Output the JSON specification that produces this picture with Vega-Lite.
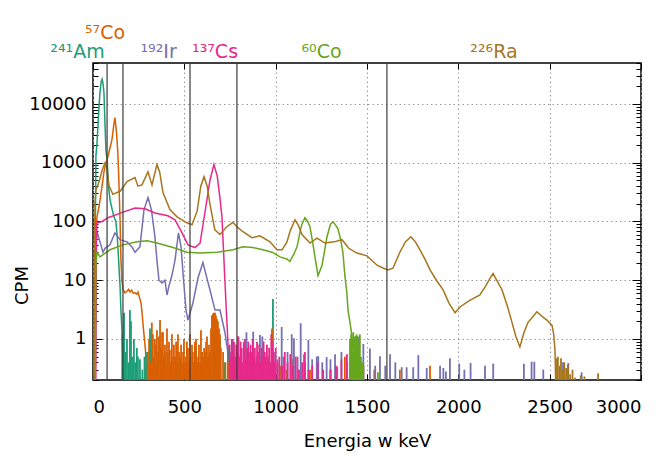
{
"$schema":"https://vega.github.io/schema/vega-lite/v6.json",
"autosize":{"type":"none"},
"width":548,"height":317,
"padding":{"left":93,"top":63,"right":27,"bottom":76},
"background":"white",
"config":{"view":{"stroke":"black","strokeWidth":1.5},"font":"DejaVu Sans"},
"datasets":{
"curve":[
{"s":"Am","e":8,"c":0.1},{"s":"Am","e":12,"c":40},{"s":"Am","e":16,"c":1300},{"s":"Am","e":22,"c":2200},{"s":"Am","e":27,"c":4200},{"s":"Am","e":33,"c":9000},{"s":"Am","e":38,"c":15700},{"s":"Am","e":45,"c":24000},{"s":"Am","e":50,"c":26400},{"s":"Am","e":55,"c":22000},{"s":"Am","e":60,"c":15700},{"s":"Am","e":66,"c":4200},{"s":"Am","e":71,"c":1600},{"s":"Am","e":77,"c":1130},{"s":"Am","e":85,"c":400},{"s":"Am","e":93,"c":235},{"s":"Am","e":105,"c":160},{"s":"Am","e":115,"c":120},{"s":"Am","e":125,"c":100},{"s":"Am","e":132,"c":60},{"s":"Am","e":138,"c":30},{"s":"Am","e":143,"c":15},{"s":"Am","e":148,"c":8},{"s":"Am","e":153,"c":3},{"s":"Am","e":158,"c":1.5},{"s":"Am","e":163,"c":0.6},{"s":"Am","e":166,"c":0.1},
{"s":"Co57","e":10,"c":0.1},{"s":"Co57","e":14,"c":20},{"s":"Co57","e":18,"c":80},{"s":"Co57","e":22,"c":120},{"s":"Co57","e":33,"c":180},{"s":"Co57","e":49,"c":390},{"s":"Co57","e":60,"c":700},{"s":"Co57","e":66,"c":860},{"s":"Co57","e":75,"c":1100},{"s":"Co57","e":82,"c":1280},{"s":"Co57","e":93,"c":1800},{"s":"Co57","e":104,"c":2500},{"s":"Co57","e":112,"c":4000},{"s":"Co57","e":120,"c":5900},{"s":"Co57","e":128,"c":3500},{"s":"Co57","e":136,"c":1500},{"s":"Co57","e":142,"c":460},{"s":"Co57","e":148,"c":107},{"s":"Co57","e":153,"c":22},{"s":"Co57","e":158,"c":10},{"s":"Co57","e":164,"c":7},{"s":"Co57","e":175,"c":6.1},{"s":"Co57","e":186,"c":6.5},{"s":"Co57","e":195,"c":7.0},{"s":"Co57","e":203,"c":6.3},{"s":"Co57","e":212,"c":6.8},{"s":"Co57","e":220,"c":6.0},{"s":"Co57","e":230,"c":6.1},{"s":"Co57","e":240,"c":5.8},{"s":"Co57","e":246,"c":6.3},{"s":"Co57","e":255,"c":5.0},{"s":"Co57","e":263,"c":4.1},{"s":"Co57","e":270,"c":2.5},{"s":"Co57","e":276,"c":1.5},{"s":"Co57","e":283,"c":0.9},{"s":"Co57","e":290,"c":0.5},{"s":"Co57","e":295,"c":0.1},
{"s":"Ir","e":12,"c":0.1},{"s":"Ir","e":16,"c":40},{"s":"Ir","e":22,"c":67},{"s":"Ir","e":38,"c":45},{"s":"Ir","e":55,"c":30},{"s":"Ir","e":66,"c":35},{"s":"Ir","e":93,"c":40},{"s":"Ir","e":120,"c":64},{"s":"Ir","e":148,"c":49},{"s":"Ir","e":186,"c":45},{"s":"Ir","e":213,"c":37},{"s":"Ir","e":230,"c":30},{"s":"Ir","e":257,"c":37},{"s":"Ir","e":279,"c":158},{"s":"Ir","e":301,"c":255},{"s":"Ir","e":320,"c":158},{"s":"Ir","e":339,"c":55},{"s":"Ir","e":350,"c":22},{"s":"Ir","e":361,"c":10},{"s":"Ir","e":378,"c":9},{"s":"Ir","e":394,"c":10},{"s":"Ir","e":405,"c":5.6},{"s":"Ir","e":416,"c":8},{"s":"Ir","e":432,"c":12},{"s":"Ir","e":449,"c":22},{"s":"Ir","e":468,"c":64},{"s":"Ir","e":482,"c":37},{"s":"Ir","e":493,"c":13},{"s":"Ir","e":509,"c":3.1},{"s":"Ir","e":520,"c":2.1},{"s":"Ir","e":547,"c":4.1},{"s":"Ir","e":575,"c":11},{"s":"Ir","e":602,"c":20},{"s":"Ir","e":620,"c":12},{"s":"Ir","e":640,"c":6.9},{"s":"Ir","e":668,"c":3.1},{"s":"Ir","e":695,"c":3.1},{"s":"Ir","e":722,"c":1.3},{"s":"Ir","e":739,"c":0.58},{"s":"Ir","e":745,"c":0.1},
{"s":"Cs","e":15,"c":0.1},{"s":"Cs","e":19,"c":50},{"s":"Cs","e":22,"c":95},{"s":"Cs","e":50,"c":100},{"s":"Cs","e":82,"c":116},{"s":"Cs","e":153,"c":140},{"s":"Cs","e":230,"c":170},{"s":"Cs","e":285,"c":165},{"s":"Cs","e":339,"c":140},{"s":"Cs","e":410,"c":125},{"s":"Cs","e":449,"c":107},{"s":"Cs","e":481,"c":70},{"s":"Cs","e":520,"c":40},{"s":"Cs","e":558,"c":36},{"s":"Cs","e":586,"c":43},{"s":"Cs","e":605,"c":100},{"s":"Cs","e":624,"c":235},{"s":"Cs","e":640,"c":500},{"s":"Cs","e":662,"c":930},{"s":"Cs","e":680,"c":600},{"s":"Cs","e":695,"c":250},{"s":"Cs","e":706,"c":120},{"s":"Cs","e":715,"c":30},{"s":"Cs","e":722,"c":10},{"s":"Cs","e":730,"c":3},{"s":"Cs","e":736,"c":1.3},{"s":"Cs","e":742,"c":0.5},{"s":"Cs","e":746,"c":0.1},
{"s":"Co60","e":12,"c":0.1},{"s":"Co60","e":16,"c":20},{"s":"Co60","e":22,"c":30},{"s":"Co60","e":38,"c":25},{"s":"Co60","e":93,"c":33},{"s":"Co60","e":164,"c":40},{"s":"Co60","e":241,"c":45},{"s":"Co60","e":296,"c":47},{"s":"Co60","e":350,"c":43},{"s":"Co60","e":438,"c":36},{"s":"Co60","e":515,"c":30},{"s":"Co60","e":586,"c":29},{"s":"Co60","e":679,"c":30},{"s":"Co60","e":767,"c":33},{"s":"Co60","e":821,"c":37},{"s":"Co60","e":876,"c":36},{"s":"Co60","e":930,"c":33},{"s":"Co60","e":980,"c":30},{"s":"Co60","e":1024,"c":25},{"s":"Co60","e":1060,"c":23},{"s":"Co60","e":1078,"c":21},{"s":"Co60","e":1100,"c":28},{"s":"Co60","e":1117,"c":37},{"s":"Co60","e":1135,"c":70},{"s":"Co60","e":1144,"c":90},{"s":"Co60","e":1160,"c":116},{"s":"Co60","e":1175,"c":100},{"s":"Co60","e":1188,"c":81},{"s":"Co60","e":1205,"c":40},{"s":"Co60","e":1215,"c":25},{"s":"Co60","e":1232,"c":12},{"s":"Co60","e":1254,"c":18},{"s":"Co60","e":1270,"c":35},{"s":"Co60","e":1281,"c":55},{"s":"Co60","e":1300,"c":90},{"s":"Co60","e":1314,"c":99},{"s":"Co60","e":1330,"c":85},{"s":"Co60","e":1341,"c":75},{"s":"Co60","e":1355,"c":50},{"s":"Co60","e":1368,"c":30},{"s":"Co60","e":1379,"c":12},{"s":"Co60","e":1390,"c":6},{"s":"Co60","e":1396,"c":3.1},{"s":"Co60","e":1407,"c":1.9},{"s":"Co60","e":1418,"c":1.1},{"s":"Co60","e":1425,"c":0.5},{"s":"Co60","e":1430,"c":0.1},
{"s":"Ra","e":5,"c":0.1},{"s":"Ra","e":8,"c":40},{"s":"Ra","e":11,"c":200},{"s":"Ra","e":16,"c":350},{"s":"Ra","e":22,"c":380},{"s":"Ra","e":35,"c":500},{"s":"Ra","e":50,"c":750},{"s":"Ra","e":66,"c":1000},{"s":"Ra","e":75,"c":850},{"s":"Ra","e":88,"c":400},{"s":"Ra","e":109,"c":290},{"s":"Ra","e":150,"c":330},{"s":"Ra","e":186,"c":480},{"s":"Ra","e":230,"c":560},{"s":"Ra","e":246,"c":400},{"s":"Ra","e":268,"c":420},{"s":"Ra","e":301,"c":700},{"s":"Ra","e":323,"c":420},{"s":"Ra","e":350,"c":930},{"s":"Ra","e":365,"c":700},{"s":"Ra","e":383,"c":310},{"s":"Ra","e":421,"c":160},{"s":"Ra","e":460,"c":120},{"s":"Ra","e":514,"c":95},{"s":"Ra","e":542,"c":88},{"s":"Ra","e":570,"c":150},{"s":"Ra","e":590,"c":400},{"s":"Ra","e":608,"c":580},{"s":"Ra","e":625,"c":400},{"s":"Ra","e":640,"c":200},{"s":"Ra","e":667,"c":72},{"s":"Ra","e":695,"c":60},{"s":"Ra","e":730,"c":80},{"s":"Ra","e":766,"c":97},{"s":"Ra","e":790,"c":80},{"s":"Ra","e":821,"c":67},{"s":"Ra","e":870,"c":53},{"s":"Ra","e":914,"c":57},{"s":"Ra","e":969,"c":45},{"s":"Ra","e":1007,"c":33},{"s":"Ra","e":1035,"c":33},{"s":"Ra","e":1062,"c":45},{"s":"Ra","e":1080,"c":70},{"s":"Ra","e":1106,"c":107},{"s":"Ra","e":1125,"c":85},{"s":"Ra","e":1144,"c":60},{"s":"Ra","e":1188,"c":43},{"s":"Ra","e":1226,"c":52},{"s":"Ra","e":1270,"c":43},{"s":"Ra","e":1320,"c":45},{"s":"Ra","e":1363,"c":49},{"s":"Ra","e":1400,"c":35},{"s":"Ra","e":1445,"c":29},{"s":"Ra","e":1500,"c":26},{"s":"Ra","e":1555,"c":18},{"s":"Ra","e":1590,"c":16},{"s":"Ra","e":1615,"c":15},{"s":"Ra","e":1642,"c":16},{"s":"Ra","e":1680,"c":30},{"s":"Ra","e":1710,"c":45},{"s":"Ra","e":1740,"c":55},{"s":"Ra","e":1765,"c":45},{"s":"Ra","e":1790,"c":33},{"s":"Ra","e":1820,"c":22},{"s":"Ra","e":1845,"c":15},{"s":"Ra","e":1880,"c":10},{"s":"Ra","e":1916,"c":6.9},{"s":"Ra","e":1950,"c":4},{"s":"Ra","e":1982,"c":2.8},{"s":"Ra","e":2009,"c":3.5},{"s":"Ra","e":2060,"c":4.5},{"s":"Ra","e":2118,"c":5.6},{"s":"Ra","e":2150,"c":8},{"s":"Ra","e":2175,"c":11},{"s":"Ra","e":2190,"c":13},{"s":"Ra","e":2210,"c":10},{"s":"Ra","e":2239,"c":6.9},{"s":"Ra","e":2270,"c":3.5},{"s":"Ra","e":2294,"c":1.9},{"s":"Ra","e":2315,"c":1.1},{"s":"Ra","e":2337,"c":0.73},{"s":"Ra","e":2360,"c":1.3},{"s":"Ra","e":2381,"c":1.9},{"s":"Ra","e":2430,"c":2.9},{"s":"Ra","e":2460,"c":2.4},{"s":"Ra","e":2485,"c":2.1},{"s":"Ra","e":2513,"c":1.7},{"s":"Ra","e":2522,"c":1.2},{"s":"Ra","e":2529,"c":0.65},{"s":"Ra","e":2535,"c":0.1}
],
"spike":[
{"s":"Am","e":160,"c":1.2},{"s":"Am","e":170,"c":2.8},{"s":"Am","e":178,"c":0.6},{"s":"Am","e":186,"c":1.0},{"s":"Am","e":195,"c":0.4},{"s":"Am","e":202,"c":3.1},{"s":"Am","e":208,"c":2.0},{"s":"Am","e":215,"c":0.5},{"s":"Am","e":224,"c":1.0},{"s":"Am","e":232,"c":0.4},{"s":"Am","e":240,"c":0.7},{"s":"Am","e":246,"c":0.5},{"s":"Am","e":257,"c":0.45},{"s":"Am","e":270,"c":0.3},{"s":"Am","e":282,"c":0.5},{"s":"Am","e":290,"c":0.6},{"s":"Am","e":300,"c":0.35},{"s":"Am","e":312,"c":1.5},{"s":"Am","e":317,"c":1.0},{"s":"Am","e":326,"c":0.4},{"s":"Am","e":339,"c":0.8},{"s":"Am","e":356,"c":0.5},{"s":"Am","e":372,"c":0.3},{"s":"Am","e":394,"c":0.6},{"s":"Am","e":421,"c":0.4},{"s":"Am","e":454,"c":0.5},{"s":"Am","e":476,"c":0.45},{"s":"Am","e":520,"c":0.3},{"s":"Am","e":564,"c":0.7},{"s":"Am","e":590,"c":0.35},{"s":"Am","e":613,"c":0.6},{"s":"Am","e":640,"c":0.3},{"s":"Am","e":668,"c":1.4},{"s":"Am","e":684,"c":0.9},{"s":"Am","e":695,"c":1.0},{"s":"Am","e":720,"c":0.4},{"s":"Am","e":739,"c":0.7},{"s":"Am","e":766,"c":0.9},{"s":"Am","e":790,"c":0.3},{"s":"Am","e":805,"c":0.5},{"s":"Am","e":848,"c":0.6},{"s":"Am","e":925,"c":0.4},{"s":"Am","e":985,"c":4.8},{"s":"Am","e":1040,"c":0.35},{"s":"Am","e":1133,"c":0.3},{"s":"Am","e":1160,"c":0.4},
{"s":"Co57","e":300,"c":0.6},{"s":"Co57","e":307,"c":1.0},{"s":"Co57","e":314,"c":0.4},{"s":"Co57","e":322,"c":1.9},{"s":"Co57","e":328,"c":1.2},{"s":"Co57","e":334,"c":0.5},{"s":"Co57","e":339,"c":1.0},{"s":"Co57","e":345,"c":0.4},{"s":"Co57","e":350,"c":1.4},{"s":"Co57","e":356,"c":0.6},{"s":"Co57","e":361,"c":1.1},{"s":"Co57","e":367,"c":2.1},{"s":"Co57","e":372,"c":0.7},{"s":"Co57","e":378,"c":1.3},{"s":"Co57","e":383,"c":1.3},{"s":"Co57","e":388,"c":0.5},{"s":"Co57","e":394,"c":0.8},{"s":"Co57","e":399,"c":0.4},{"s":"Co57","e":405,"c":1.5},{"s":"Co57","e":410,"c":0.6},{"s":"Co57","e":416,"c":0.9},{"s":"Co57","e":421,"c":0.65},{"s":"Co57","e":427,"c":0.4},{"s":"Co57","e":432,"c":1.2},{"s":"Co57","e":438,"c":0.5},{"s":"Co57","e":443,"c":0.8},{"s":"Co57","e":449,"c":0.5},{"s":"Co57","e":455,"c":0.9},{"s":"Co57","e":460,"c":0.4},{"s":"Co57","e":465,"c":1.2},{"s":"Co57","e":471,"c":0.6},{"s":"Co57","e":476,"c":0.5},{"s":"Co57","e":482,"c":0.8},{"s":"Co57","e":487,"c":0.4},{"s":"Co57","e":493,"c":0.6},{"s":"Co57","e":498,"c":1.0},{"s":"Co57","e":504,"c":0.4},{"s":"Co57","e":509,"c":0.5},{"s":"Co57","e":514,"c":0.9},{"s":"Co57","e":520,"c":0.7},{"s":"Co57","e":526,"c":0.4},{"s":"Co57","e":531,"c":1.2},{"s":"Co57","e":536,"c":0.5},{"s":"Co57","e":542,"c":0.8},{"s":"Co57","e":547,"c":0.6},{"s":"Co57","e":553,"c":0.4},{"s":"Co57","e":558,"c":0.9},{"s":"Co57","e":564,"c":1.0},{"s":"Co57","e":569,"c":0.4},{"s":"Co57","e":575,"c":0.5},{"s":"Co57","e":580,"c":0.8},{"s":"Co57","e":586,"c":0.4},{"s":"Co57","e":591,"c":1.4},{"s":"Co57","e":597,"c":0.6},{"s":"Co57","e":602,"c":0.5},{"s":"Co57","e":608,"c":0.7},{"s":"Co57","e":613,"c":0.4},{"s":"Co57","e":619,"c":0.9},{"s":"Co57","e":624,"c":1.1},{"s":"Co57","e":630,"c":0.5},{"s":"Co57","e":635,"c":0.8},{"s":"Co57","e":640,"c":0.6},{"s":"Co57","e":646,"c":1.5},{"s":"Co57","e":651,"c":2.5},{"s":"Co57","e":657,"c":2.7},{"s":"Co57","e":662,"c":2.8},{"s":"Co57","e":668,"c":2.8},{"s":"Co57","e":673,"c":2.5},{"s":"Co57","e":678,"c":2.2},{"s":"Co57","e":684,"c":2.0},{"s":"Co57","e":690,"c":1.5},{"s":"Co57","e":695,"c":1.2},{"s":"Co57","e":700,"c":0.7},{"s":"Co57","e":712,"c":0.6},{"s":"Co57","e":725,"c":0.4},{"s":"Co57","e":739,"c":0.4},{"s":"Co57","e":760,"c":0.3},{"s":"Co57","e":777,"c":0.5},{"s":"Co57","e":800,"c":0.3},{"s":"Co57","e":832,"c":0.3},{"s":"Co57","e":870,"c":0.35},{"s":"Co57","e":914,"c":0.4},{"s":"Co57","e":950,"c":0.3},{"s":"Co57","e":980,"c":1.5},{"s":"Co57","e":1024,"c":0.35},{"s":"Co57","e":1060,"c":0.3},{"s":"Co57","e":1095,"c":0.45},{"s":"Co57","e":1188,"c":0.3},{"s":"Co57","e":1300,"c":0.3},{"s":"Co57","e":1336,"c":0.3},{"s":"Co57","e":1379,"c":0.5},{"s":"Co57","e":1462,"c":0.3},{"s":"Co57","e":1540,"c":0.3},{"s":"Co57","e":1680,"c":0.3},{"s":"Co57","e":1845,"c":0.35},
{"s":"Ir","e":750,"c":0.6},{"s":"Ir","e":765,"c":1.0},{"s":"Ir","e":780,"c":0.5},{"s":"Ir","e":795,"c":1.1},{"s":"Ir","e":810,"c":0.7},{"s":"Ir","e":825,"c":0.9},{"s":"Ir","e":840,"c":1.3},{"s":"Ir","e":855,"c":0.6},{"s":"Ir","e":877,"c":1.33},{"s":"Ir","e":895,"c":0.5},{"s":"Ir","e":914,"c":1.17},{"s":"Ir","e":927,"c":1.1},{"s":"Ir","e":945,"c":0.5},{"s":"Ir","e":960,"c":0.44},{"s":"Ir","e":990,"c":0.6},{"s":"Ir","e":1010,"c":0.45},{"s":"Ir","e":1033,"c":1.6},{"s":"Ir","e":1042,"c":0.5},{"s":"Ir","e":1065,"c":0.6},{"s":"Ir","e":1088,"c":1.2},{"s":"Ir","e":1100,"c":1.03},{"s":"Ir","e":1120,"c":0.5},{"s":"Ir","e":1137,"c":1.85},{"s":"Ir","e":1155,"c":0.55},{"s":"Ir","e":1179,"c":0.96},{"s":"Ir","e":1200,"c":0.45},{"s":"Ir","e":1225,"c":0.5},{"s":"Ir","e":1233,"c":0.51},{"s":"Ir","e":1255,"c":0.4},{"s":"Ir","e":1279,"c":0.49},{"s":"Ir","e":1300,"c":0.45},{"s":"Ir","e":1325,"c":0.55},{"s":"Ir","e":1337,"c":0.34},{"s":"Ir","e":1360,"c":0.6},{"s":"Ir","e":1390,"c":0.4},{"s":"Ir","e":1410,"c":0.45},{"s":"Ir","e":1440,"c":1.12},{"s":"Ir","e":1452,"c":1.1},{"s":"Ir","e":1480,"c":0.82},{"s":"Ir","e":1516,"c":0.69},{"s":"Ir","e":1545,"c":0.35},{"s":"Ir","e":1571,"c":0.51},{"s":"Ir","e":1600,"c":0.35},{"s":"Ir","e":1626,"c":0.55},{"s":"Ir","e":1655,"c":0.4},{"s":"Ir","e":1690,"c":0.33},{"s":"Ir","e":1717,"c":0.33},{"s":"Ir","e":1753,"c":0.33},{"s":"Ir","e":1781,"c":0.53},{"s":"Ir","e":1827,"c":0.32},{"s":"Ir","e":1900,"c":0.35},{"s":"Ir","e":1918,"c":0.32},{"s":"Ir","e":1932,"c":0.28},{"s":"Ir","e":1954,"c":0.47},{"s":"Ir","e":2005,"c":0.38},{"s":"Ir","e":2033,"c":0.3},{"s":"Ir","e":2067,"c":0.39},{"s":"Ir","e":2146,"c":0.35},{"s":"Ir","e":2191,"c":0.38},{"s":"Ir","e":2359,"c":0.38},{"s":"Ir","e":2401,"c":0.41},{"s":"Ir","e":2416,"c":0.41},{"s":"Ir","e":2465,"c":0.3},{"s":"Ir","e":2573,"c":0.4},{"s":"Ir","e":2602,"c":0.39},{"s":"Ir","e":2675,"c":0.27},
{"s":"Cs","e":748,"c":0.8},{"s":"Cs","e":754,"c":0.5},{"s":"Cs","e":760,"c":1.0},{"s":"Cs","e":766,"c":0.6},{"s":"Cs","e":772,"c":0.9},{"s":"Cs","e":778,"c":0.4},{"s":"Cs","e":784,"c":0.8},{"s":"Cs","e":790,"c":0.6},{"s":"Cs","e":796,"c":1.1},{"s":"Cs","e":802,"c":0.5},{"s":"Cs","e":808,"c":0.9},{"s":"Cs","e":814,"c":0.7},{"s":"Cs","e":820,"c":0.4},{"s":"Cs","e":826,"c":0.8},{"s":"Cs","e":832,"c":1.0},{"s":"Cs","e":838,"c":0.5},{"s":"Cs","e":844,"c":0.7},{"s":"Cs","e":850,"c":0.9},{"s":"Cs","e":856,"c":0.4},{"s":"Cs","e":862,"c":0.8},{"s":"Cs","e":868,"c":0.6},{"s":"Cs","e":874,"c":1.0},{"s":"Cs","e":880,"c":0.5},{"s":"Cs","e":886,"c":0.7},{"s":"Cs","e":892,"c":0.4},{"s":"Cs","e":898,"c":0.9},{"s":"Cs","e":904,"c":0.6},{"s":"Cs","e":910,"c":0.8},{"s":"Cs","e":916,"c":0.4},{"s":"Cs","e":922,"c":0.7},{"s":"Cs","e":928,"c":0.5},{"s":"Cs","e":934,"c":0.9},{"s":"Cs","e":940,"c":0.6},{"s":"Cs","e":946,"c":0.4},{"s":"Cs","e":952,"c":0.8},{"s":"Cs","e":958,"c":0.5},{"s":"Cs","e":964,"c":0.7},{"s":"Cs","e":970,"c":0.4},{"s":"Cs","e":976,"c":1.2},{"s":"Cs","e":982,"c":0.9},{"s":"Cs","e":988,"c":0.6},{"s":"Cs","e":994,"c":0.4},{"s":"Cs","e":1000,"c":0.7},{"s":"Cs","e":1010,"c":0.4},{"s":"Cs","e":1020,"c":0.5},{"s":"Cs","e":1035,"c":0.35},{"s":"Cs","e":1050,"c":0.6},{"s":"Cs","e":1065,"c":0.4},{"s":"Cs","e":1080,"c":0.55},{"s":"Cs","e":1095,"c":0.35},{"s":"Cs","e":1110,"c":0.5},{"s":"Cs","e":1125,"c":0.3},{"s":"Cs","e":1145,"c":0.4},{"s":"Cs","e":1160,"c":0.6},{"s":"Cs","e":1180,"c":0.3},{"s":"Cs","e":1200,"c":0.35},{"s":"Cs","e":1230,"c":0.4},{"s":"Cs","e":1260,"c":0.3},{"s":"Cs","e":1300,"c":0.3},{"s":"Cs","e":1330,"c":0.35},{"s":"Cs","e":1360,"c":0.45},{"s":"Cs","e":1390,"c":0.55},{"s":"Cs","e":1410,"c":0.3},{"s":"Cs","e":1440,"c":0.3},{"s":"Cs","e":1480,"c":0.35},
{"s":"Co60","e":1407,"c":1.0},{"s":"Co60","e":1413,"c":1.2},{"s":"Co60","e":1419,"c":0.6},{"s":"Co60","e":1425,"c":1.3},{"s":"Co60","e":1431,"c":1.1},{"s":"Co60","e":1437,"c":0.5},{"s":"Co60","e":1443,"c":1.2},{"s":"Co60","e":1449,"c":1.1},{"s":"Co60","e":1455,"c":0.8},{"s":"Co60","e":1461,"c":1.2},{"s":"Co60","e":1467,"c":0.5},{"s":"Co60","e":1473,"c":0.4},{"s":"Co60","e":1480,"c":0.35},{"s":"Co60","e":1560,"c":0.27},
{"s":"Ra","e":2535,"c":0.47},{"s":"Ra","e":2545,"c":0.5},{"s":"Ra","e":2555,"c":0.35},{"s":"Ra","e":2562,"c":0.47},{"s":"Ra","e":2570,"c":0.3},{"s":"Ra","e":2580,"c":0.4},{"s":"Ra","e":2590,"c":0.32},{"s":"Ra","e":2600,"c":0.36},{"s":"Ra","e":2612,"c":0.25},{"s":"Ra","e":2625,"c":0.3},{"s":"Ra","e":2640,"c":0.22},{"s":"Ra","e":2670,"c":0.24},{"s":"Ra","e":2690,"c":0.23},{"s":"Ra","e":2765,"c":0.26}
],
"marks":[{"e":77},{"e":164},{"e":531},{"e":788},{"e":1609}],
"labels":[
{"s":"Am","t":"²⁴¹Am","e":-85,"c":62000},
{"s":"Co57","t":"⁵⁷Co","e":66,"c":126000},
{"s":"Ir","t":"¹⁹²Ir","e":359,"c":62000},
{"s":"Cs","t":"¹³⁷Cs","e":668,"c":62000},
{"s":"Co60","t":"⁶⁰Co","e":1251,"c":62000},
{"s":"Ra","t":"²²⁶Ra","e":2195,"c":62000}
]
},
"resolve":{"axis":{"x":"independent","y":"independent"}},
"layer":[
{
"data":{"name":"curve"},
"mark":{"type":"line","clip":true,"strokeWidth":1.5},
"encoding":{
"x":{"field":"e","type":"quantitative","scale":{"domain":[0,3000],"nice":false,"zero":false},
"axis":{"values":[0,500,1000,1500,2000,2500,3000],"format":"d","grid":true,"gridDash":[1.5,3],"gridColor":"#9a9a9a","domain":false,"tickSize":-6,"tickColor":"black","labelFontSize":18,"labelPadding":24,"labelColor":"black","title":"Energia w keV","titleFontSize":18,"titleFontWeight":"normal","titleColor":"black","titleBaseline":"alphabetic","titleY":66}},
"y":{"field":"c","type":"quantitative","scale":{"type":"log","domain":[0.2,50000],"nice":false},
"axis":{"values":[0.2,0.3,0.4,0.5,0.6,0.7,0.8,0.9,1,2,3,4,5,6,7,8,9,10,20,30,40,50,60,70,80,90,100,200,300,400,500,600,700,800,900,1000,2000,3000,4000,5000,6000,7000,8000,9000,10000,20000,30000,40000,50000],
"labelExpr":"abs(log(datum.value)/LN10 - round(log(datum.value)/LN10)) < 0.0001 ? format(datum.value,'d') : ''",
"grid":true,"gridDash":[1.5,3],"gridColor":"#9a9a9a",
"gridOpacity":{"condition":{"test":"abs(log(datum.value)/LN10 - round(log(datum.value)/LN10)) < 0.0001","value":1},"value":0},
"tickSize":{"condition":{"test":"abs(log(datum.value)/LN10 - round(log(datum.value)/LN10)) < 0.0001","value":-9},"value":-5},
"tickColor":"black","domain":false,"labelFontSize":18,"labelColor":"black","labelPadding":16,
"title":"CPM","titleFontSize":18,"titleFontWeight":"normal","titleColor":"black","titleX":-71,"titleY":222,"titleBaseline":"middle","titleAlign":"center"}},
"color":{"field":"s","type":"nominal","scale":{"domain":["Am","Co57","Ir","Cs","Co60","Ra"],"range":["#1b9e77","#d95f02","#7570b3","#e7298a","#66a61e","#a6761d"]},"legend":null}
}
},
{
"data":{"name":"spike"},
"mark":{"type":"rule","clip":true,"strokeWidth":1.8},
"encoding":{
"x":{"field":"e","type":"quantitative","axis":{"orient":"top","values":[0,500,1000,1500,2000,2500,3000],"labels":false,"grid":false,"domain":false,"tickSize":-6,"tickColor":"black","title":null}},
"y":{"field":"c","type":"quantitative","axis":{"orient":"right","values":[0.2,0.3,0.4,0.5,0.6,0.7,0.8,0.9,1,2,3,4,5,6,7,8,9,10,20,30,40,50,60,70,80,90,100,200,300,400,500,600,700,800,900,1000,2000,3000,4000,5000,6000,7000,8000,9000,10000,20000,30000,40000,50000],"labels":false,"grid":false,"domain":false,"tickColor":"black","title":null,
"tickSize":{"condition":{"test":"abs(log(datum.value)/LN10 - round(log(datum.value)/LN10)) < 0.0001","value":-9},"value":-5}}},
"y2":{"datum":0.2},
"color":{"field":"s","type":"nominal","legend":null}
}
},
{
"data":{"name":"marks"},
"mark":{"type":"rule","color":"#3a3a3a","strokeWidth":1.2},
"encoding":{"x":{"field":"e","type":"quantitative","axis":null}}
},
{
"data":{"name":"labels"},
"mark":{"type":"text","clip":false,"fontSize":19,"baseline":"alphabetic","align":"center"},
"encoding":{
"x":{"field":"e","type":"quantitative","axis":null},
"y":{"field":"c","type":"quantitative","axis":null},
"text":{"field":"t"},
"color":{"field":"s","type":"nominal","legend":null}
}
}
]
}
